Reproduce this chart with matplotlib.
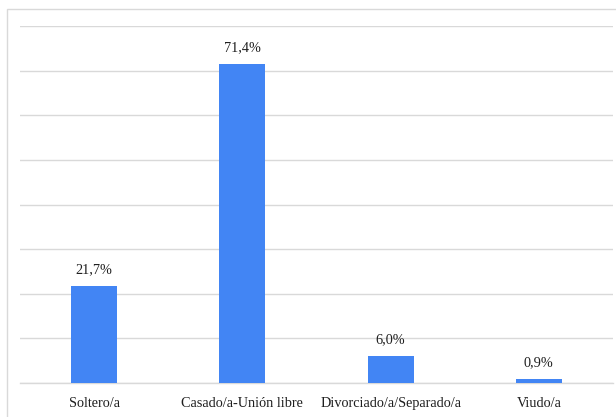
import matplotlib
matplotlib.use("Agg")
import matplotlib.pyplot as plt
from matplotlib.patches import Rectangle

categories = ["Soltero/a", "Casado/a-Unión libre", "Divorciado/a/Separado/a", "Viudo/a"]
values = [21.7, 71.4, 6.0, 0.9]
value_labels = ["21,7%", "71,4%", "6,0%", "0,9%"]

plt.rcParams["font.family"] = ["Liberation Serif", "DejaVu Serif"]

W, H = 616, 417
fig = plt.figure(figsize=(W / 100, H / 100), dpi=100)
fig.patch.set_facecolor("white")

# outer chart frame
fig.patches.append(Rectangle((7 / W, -0.2), 1.2, 1.2 - 9 / H,
                             transform=fig.transFigure, fill=False,
                             edgecolor="#d9d9d9", linewidth=1.0))

ax = fig.add_axes([20 / W, 1 - 383 / H, (613 - 20) / W, (383 - 26) / H])
x = range(len(categories))
ax.bar(x, values, width=0.31, color="#4285f4", zorder=3)

ax.set_xlim(-0.5, len(categories) - 0.5)
ax.set_ylim(0, 80)
ax.set_yticks(range(0, 81, 10))
ax.yaxis.grid(True, color="#d9d9d9", linewidth=1.0, zorder=0)
ax.tick_params(axis="y", left=False, labelleft=False)
ax.tick_params(axis="x", length=0, pad=10, labelsize=10.3, labelcolor="#1f1f1f")
ax.set_xticks(list(x))
ax.set_xticklabels(categories)
for s in ["top", "right", "left"]:
    ax.spines[s].set_visible(False)
ax.spines["bottom"].set_color("#d9d9d9")
ax.spines["bottom"].set_linewidth(1.0)

for xi, v, lab in zip(x, values, value_labels):
    ax.annotate(lab, (xi, v), xytext=(0, 7), textcoords="offset points",
                ha="center", va="bottom", fontsize=10.3, color="#1f1f1f")

fig.savefig("out.png", dpi=100)
